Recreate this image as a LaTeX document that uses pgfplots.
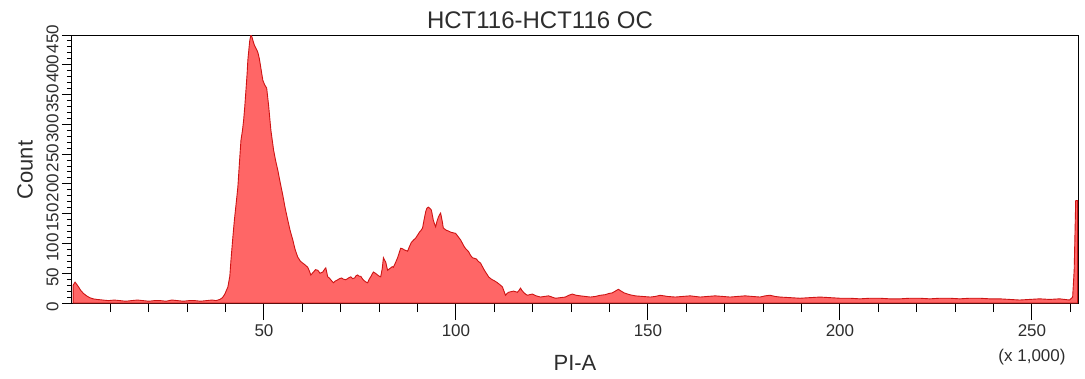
\documentclass[border=0pt]{standalone}
\usepackage{fontspec}
\setmainfont{Liberation Sans}
\usepackage{pgfplots}
\pgfplotsset{compat=1.18}
\definecolor{histfill}{RGB}{255,102,102}
\definecolor{histline}{RGB}{205,20,20}
\definecolor{txt}{RGB}{45,45,45}
\pgfplotstableread{
x y
0.3 30
0.8 35
1.5 29
2.3 21
3.0 16
3.8 12
4.6 9
5.5 7
6.5 6
8 5
9.5 4
11 5
12.5 4
14 3
15.5 4
17 5
18.5 4
20 3
21.5 4
23 4
24.5 3
26 5
27.5 4
29 3
30.5 4
32 4
33.5 3
35 4
36.5 5
37.5 4
38.5 6
39.2 9
39.8 15
40.6 27
41.1 45
41.4 72
41.9 111
42.3 140
42.7 164
43.2 195
43.6 235
44.0 273
44.4 290
44.7 307
45.0 330
45.3 357
45.6 385
45.8 408
46.1 428
46.3 441
46.6 450
46.9 446
47.1 441
47.5 433
47.9 428
48.4 421
48.8 410
49.2 394
49.7 374
50.2 366
50.7 361
51.2 332
51.8 290
52.5 257
53.0 240
53.6 223
54.2 203
54.9 181
55.5 160
56.2 139
56.8 122
57.5 106
58.1 90
58.8 77
59.5 70
60.1 67
60.7 64
61.4 60
61.8 54
62.2 47
62.6 50
62.9 52
63.4 56
64.0 55
64.6 50
65.3 52
65.7 56
66.1 59
66.6 44
67.0 42
67.4 39
67.8 36
68.1 34
68.6 37
69.2 39
69.7 41
70.2 42
70.7 40
71.3 39
72.0 42
72.6 44
73.1 41
73.6 42
74.0 46
74.4 47
74.8 45
75.2 45
75.7 40
76.2 37
76.6 35
77.0 34
77.4 40
77.8 44
78.2 49
78.5 52
79.0 50
79.6 47
80.0 45
80.4 44
80.8 58
81.1 76
81.4 72
81.7 69
82.0 60
82.2 55
82.6 57
83.0 59
83.4 61
83.7 60
84.2 67
84.8 76
85.2 84
85.6 92
86.1 91
86.6 89
87.0 88
87.4 87
87.9 95
88.4 102
89.0 106
89.5 109
90.0 114
90.5 119
90.9 122
91.3 126
91.7 140
92.1 153
92.4 159
92.8 161
93.2 159
93.6 156
94.1 139
94.4 133
94.7 128
95.0 136
95.4 144
95.7 148
96.0 151
96.4 138
96.7 126
97.1 124
97.5 122
98.0 121
98.6 119
99.2 118
99.9 117
100.5 112
101.2 106
101.7 100
102.2 94
102.7 90
103.3 86
103.8 80
104.3 76
104.8 75
105.3 74
105.8 70
106.4 67
106.9 61
107.4 55
108.0 49
108.5 44
109.0 41
109.5 39
110.1 37
110.8 34
111.4 31
112.1 27
112.5 20
112.9 13
113.3 16
113.7 18
114.3 19
115.0 20
115.5 19
116.0 18
116.4 21
116.8 25
117.2 21
117.6 18
118.1 15
118.6 13
119.2 14
119.9 15
120.9 12
122.0 10
123.0 11
124.1 12
125.0 10
125.9 8
127.2 9
128.5 10
129.4 13
130.3 15
131.3 13
132.4 12
133.7 11
135.0 10
136.3 11
137.6 13
138.9 14
139.8 16
140.7 17
141.5 20
142.3 23
143.0 20
143.8 17
145.2 14
146.7 12
148.6 11
150.6 10
151.9 11
153.2 13
155.1 11
157.1 10
159.0 11
161.0 12
162.3 11
163.6 10
165.5 11
167.5 12
169.5 11
171.4 10
173.3 11
175.3 12
177.2 11
179.2 10
180.5 12
181.8 13
183.1 11
184.4 10
187.0 9
189.6 8
192.2 9
194.8 10
197.4 9
200.0 8
202.6 8
205.2 7
207.8 8
210.4 8
213.0 7
215.6 7
218.2 8
220.8 8
223.4 7
226.0 8
228.6 8
231.2 7
233.8 8
236.4 8
239.0 7
241.6 7
244.2 6
246.8 5
249.4 6
252.0 7
254.6 6
257.2 7
259.8 5
260.6 10
261.0 55
261.4 172
261.9 172
}\histdata
\begin{document}
\begin{tikzpicture}[x=1pt,y=1pt]
\useasboundingbox (0,0) rectangle (1085,378);
% x ticks axis
\begin{axis}[
  at={(72pt,75pt)}, anchor=south west,
  scale only axis, width=1006pt, height=268pt,
  xmin=0, xmax=262, ymin=0, ymax=450,
  axis line style={draw=none},
  ytick=\empty,
  xtick={50,100,150,200,250},
  minor xtick={10,20,...,260},
  xtick pos=left, tick align=outside,
  major tick length=17pt, minor tick length=9pt,
  tick style={black, line width=1pt},
  /pgf/number format/assume math mode=true,
  xticklabel style={font=\fontsize{17}{19}\selectfont, text=txt, yshift=-1pt},
]
\end{axis}
% main axis
\begin{axis}[
  at={(72pt,75pt)}, anchor=south west,
  scale only axis, width=1006pt, height=268pt,
  xmin=0, xmax=262, ymin=0, ymax=450,
  axis line style={black, line width=1pt},
  xtick=\empty,
  ytick={0,50,...,450},
  minor y tick num=4,
  ytick pos=left, tick align=outside,
  major tick length=10pt, minor tick length=5pt,
  tick style={black, line width=1pt},
  /pgf/number format/assume math mode=true,
  yticklabel style={font=\fontsize{17}{19}\selectfont, text=txt, rotate=90, anchor=south, xshift=-4pt},
]
\addplot[fill=histfill, draw=histline, line width=0.9pt] table[x=x,y=y] {\histdata} \closedcycle;
\end{axis}
\node[font=\fontsize{24}{28}\selectfont, text=txt] at (540,358) {HCT116-HCT116 OC};
\node[font=\fontsize{22}{26}\selectfont, text=txt, rotate=90] at (25,208) {Count};
\node[font=\fontsize{22}{26}\selectfont, text=txt] at (575,15) {PI-A};
\node[font=\fontsize{17}{19}\selectfont, text=txt] at (1032,21) {(x 1,000)};
\end{tikzpicture}
\end{document}
